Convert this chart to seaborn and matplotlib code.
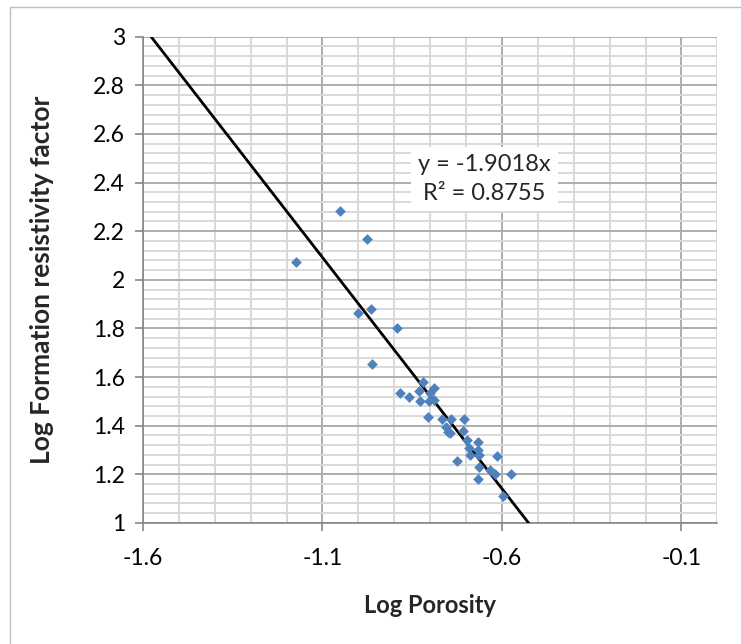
import matplotlib.pyplot as plt
import seaborn as sns
import pandas as pd
import numpy as np
from matplotlib.patches import Rectangle

# data
log_porosity = [-1.174, -1.051, -0.975, -1.001, -0.964, -0.892, -0.963,
                -0.884, -0.860, -0.819, -0.831, -0.789, -0.800, -0.828,
                -0.802, -0.789, -0.805, -0.766, -0.741, -0.706, -0.755,
                -0.749, -0.744, -0.709, -0.696, -0.667, -0.693, -0.667,
                -0.690, -0.663, -0.614, -0.724, -0.665, -0.633, -0.619,
                -0.575, -0.667, -0.597]
log_frf = [2.072, 2.285, 2.167, 1.864, 1.879, 1.802, 1.654,
           1.536, 1.520, 1.579, 1.543, 1.557, 1.536, 1.502,
           1.503, 1.506, 1.435, 1.428, 1.429, 1.428, 1.396,
           1.372, 1.369, 1.379, 1.342, 1.333, 1.307, 1.300,
           1.280, 1.280, 1.277, 1.254, 1.228, 1.218, 1.200,
           1.202, 1.180, 1.111]
slope = -1.9018
r2 = 0.8755

df = pd.DataFrame({"x": log_porosity, "y": log_frf})

sns.set_theme(style="white")
plt.rcParams['font.family'] = ['Lato', 'DejaVu Sans']

fig = plt.figure(figsize=(7.41, 6.44), dpi=100)
ax = fig.add_axes([0.193, 0.188, 0.775, 0.755])

# chart area border (only top and left visible in the crop)
fig.patches.append(Rectangle((10 / 741, -0.1), 1.2, (644 - 7) / 644 + 0.1,
                             transform=fig.transFigure, fill=False,
                             edgecolor="#BFBFBF", linewidth=1.0))

ax.set_xlim(-1.6, 0)
ax.set_ylim(1, 3)
ax.set_xticks([-1.6, -1.1, -0.6, -0.1])
ax.set_xticks(np.arange(-1.6, 0.001, 0.1), minor=True)
ax.set_yticks(np.arange(1, 3.001, 0.2))
ax.set_yticks(np.arange(1, 3.001, 0.04), minor=True)
ax.set_xticklabels(["-1.6", "-1.1", "-0.6", "-0.1"])
ax.set_yticklabels(["1", "1.2", "1.4", "1.6", "1.8", "2", "2.2", "2.4", "2.6", "2.8", "3"])

ax.grid(which="minor", color="#D9D9D9", linewidth=1.4, zorder=0)
ax.grid(which="major", color="#ADADAD", linewidth=1.4, zorder=0)
ax.set_axisbelow(True)

for s in ["top", "right"]:
    ax.spines[s].set_visible(False)
for s in ["left", "bottom"]:
    ax.spines[s].set_color("#868686")
    ax.spines[s].set_linewidth(1.2)

ax.tick_params(which="major", direction="out", length=6, width=1.2, color="#868686",
               labelsize=16.5, labelcolor="#000000", bottom=True, left=True)
ax.tick_params(axis="x", which="major", pad=12)
ax.tick_params(axis="y", which="major", pad=7)
ax.tick_params(which="minor", length=0)

# trendline through origin
xs = np.array([-1.6, 0])
ax.plot(xs, slope * xs, color="black", linewidth=2.0, zorder=3)

sns.scatterplot(data=df, x="x", y="y", marker="D", s=30, color="#4F81BD",
                edgecolor="#4F81BD", linewidth=0, ax=ax, zorder=4)

ax.set_xlabel("Log Porosity", fontsize=17, fontweight="bold", labelpad=18)
ax.set_ylabel("Log Formation resistivity factor", fontsize=19, fontweight="bold", labelpad=28)

ax.text(-0.649, 2.415, f"y = {slope}x\nR\u00b2 = {r2}", fontsize=17, ha="center", va="center",
        linespacing=1.5, zorder=5,
        bbox=dict(boxstyle="square,pad=0.3", facecolor="white", edgecolor="none"))

fig.savefig("out.png", dpi=100)
